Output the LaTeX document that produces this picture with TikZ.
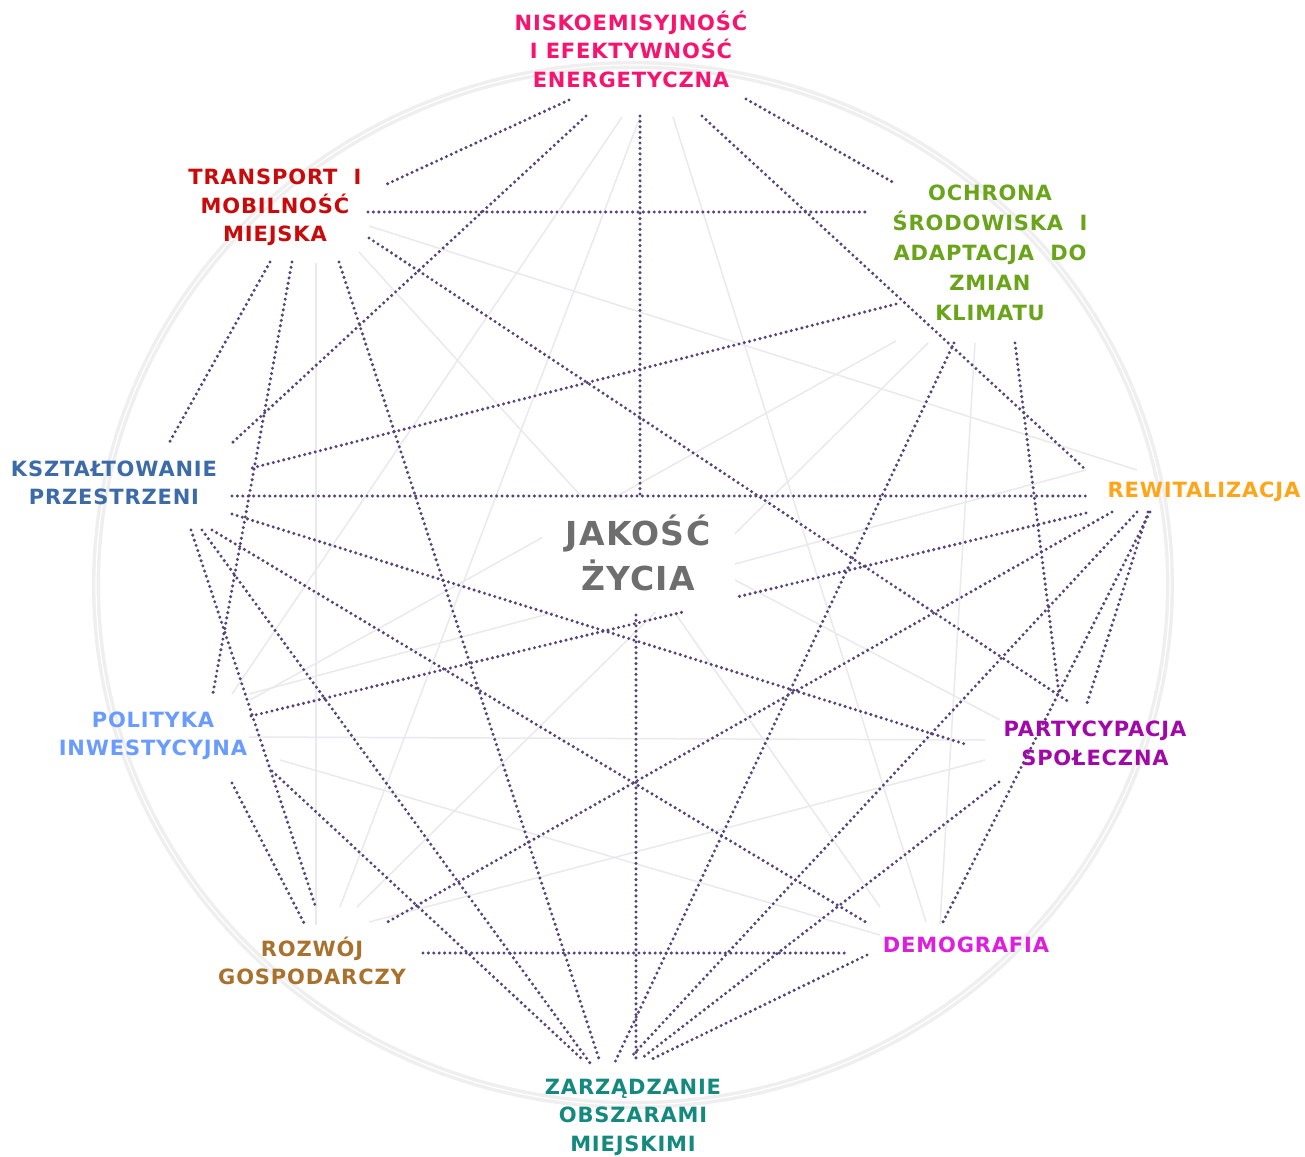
\documentclass[tikz,border=0pt]{standalone}
\usepackage{fontspec}
\newfontfamily\labfont[LetterSpace=4]{DejaVu Sans}
\definecolor{cN}{HTML}{F7146E}
\definecolor{cT}{HTML}{C80A0A}
\definecolor{cO}{HTML}{6AA41A}
\definecolor{cK}{HTML}{3D6BA8}
\definecolor{cR}{HTML}{FFA51A}
\definecolor{cJ}{HTML}{6E6E6E}
\definecolor{cP}{HTML}{6A9CFF}
\definecolor{cPa}{HTML}{A008A8}
\definecolor{cG}{HTML}{A8712E}
\definecolor{cD}{HTML}{DD1EDD}
\definecolor{cZ}{HTML}{14897E}
\definecolor{dotc}{HTML}{54467C}
\definecolor{faintc}{HTML}{EAEAEE}
\definecolor{ringc}{HTML}{EFEFEF}
\begin{document}
\begin{tikzpicture}[x=1pt,y=-1pt,
  lab/.style={font=\labfont\bfseries\fontsize{21}{28.5}\selectfont, align=center, inner sep=0pt},
  dotl/.style={draw=dotc, line width=3.4pt, line cap=round, dash pattern=on 0pt off 5.4pt},
  faint/.style={draw=faintc, line width=1.5pt},
  ring/.style={draw=ringc, line width=8pt}]
\useasboundingbox (0,0) rectangle (1305,1156);
\fill[white] (0,0) rectangle (1305,1156);
% ring
\draw[ring] (633,585) ellipse [x radius=537, y radius=520];
\draw[white, line width=1.2pt] (633,585) ellipse [x radius=537, y radius=520];
% faint connectors
\coordinate (fTa) at (316,263); \coordinate (fGa) at (316,925);
\coordinate (fTb) at (359,252); \coordinate (fJb) at (581,496);
\coordinate (fTc) at (369,226); \coordinate (fRc) at (1137,470);
\coordinate (fNd) at (622,117); \coordinate (fPd) at (232,694);
\coordinate (fNe) at (640,117); \coordinate (fGe) at (340,907);
\coordinate (fNf) at (673,117); \coordinate (fDf) at (926,922);
\coordinate (fPg) at (249,694); \coordinate (fRg) at (1086,470);
\coordinate (fPh) at (249,737); \coordinate (fPah) at (985,740);
\coordinate (fPi) at (280,760); \coordinate (fDi) at (880,935);
\coordinate (fGj) at (357,907); \coordinate (fOj) at (928,343);
\coordinate (fGk) at (369,922); \coordinate (fPak) at (985,760);
\coordinate (fOl) at (896,341); \coordinate (fPl) at (250,700);
\coordinate (fOm) at (975,343); \coordinate (fDm) at (940,924);
\coordinate (fJn) at (735,580); \coordinate (fPan) at (1000,720);
\coordinate (fJo) at (675,613); \coordinate (fDo) at (880,907);
\foreach \a/\b in {fTa/fGa, fTb/fJb, fTc/fRc, fNd/fPd, fNe/fGe, fNf/fDf, fPg/fRg, fPh/fPah, fPi/fDi, fGj/fOj, fGk/fPak, fOl/fPl, fOm/fDm, fJn/fPan, fJo/fDo}
  \draw[faint] (\a) -- (\b);
% white field behind the centre text
\fill[white] (542,500) rectangle (735,612);
% ports of the dotted connectors
\coordinate (nT) at (569,100);  \coordinate (tN) at (387,184);
\coordinate (nK) at (586,116);  \coordinate (kN) at (232,443);
\coordinate (nJ) at (640,116);  \coordinate (jN) at (640,494);
\coordinate (nR) at (702,116);  \coordinate (rN) at (1086,470);
\coordinate (nO) at (746,99);   \coordinate (oN) at (896,184);
\coordinate (tO) at (368,212);  \coordinate (oT) at (870,212);
\coordinate (tPa) at (369,238); \coordinate (paT) at (1069,702);
\coordinate (tK) at (270,262);  \coordinate (kT) at (169,443);
\coordinate (tP) at (292,262);  \coordinate (pT) at (213,693);
\coordinate (tZ) at (339,262);  \coordinate (zT) at (600,1062);
\coordinate (oK) at (896,304);  \coordinate (kO) at (248,469);
\coordinate (oZ) at (954,343);  \coordinate (zO) at (615,1062);
\coordinate (oPa) at (1015,343); \coordinate (paO) at (1059,694);
\coordinate (kR) at (232,496);  \coordinate (rK) at (1086,496);
\coordinate (kPa) at (232,514); \coordinate (paK) at (968,745);
\coordinate (kD) at (212,530);  \coordinate (dK) at (869,924);
\coordinate (kZ) at (202,530);  \coordinate (zK) at (590,1063);
\coordinate (kG) at (191,530);  \coordinate (gK) at (315,905);
\coordinate (pJ) at (251,716);  \coordinate (jP) at (683,612);
\coordinate (pG) at (232,783);  \coordinate (gP) at (305,925);
\coordinate (pZ) at (272,771);  \coordinate (zP) at (583,1060);
\coordinate (rJ) at (1086,513); \coordinate (jR) at (737,597);
\coordinate (rG) at (1112,512); \coordinate (gR) at (384,924);
\coordinate (rZ) at (1137,512); \coordinate (zR) at (630,1058);
\coordinate (rPa) at (1148,512); \coordinate (paR) at (1087,703);
\coordinate (rD) at (1150,512); \coordinate (dR) at (942,924);
\coordinate (paZ) at (999,782); \coordinate (zPa) at (642,1058);
\coordinate (dZ) at (867,955);  \coordinate (zD) at (650,1060);
\coordinate (gD) at (423,953);  \coordinate (dG) at (847,953);
\coordinate (jZ) at (636,615);  \coordinate (zJ) at (636,1060);
\foreach \a/\b in {nT/tN, nK/kN, nJ/jN, nR/rN, nO/oN, tO/oT, tPa/paT, tK/kT, tP/pT, tZ/zT,
  oK/kO, oZ/zO, oPa/paO, kR/rK, kPa/paK, kD/dK, kZ/zK, kG/gK, pJ/jP, pG/gP, pZ/zP,
  rJ/jR, rG/gR, rZ/zR, rPa/paR, rD/dR, paZ/zPa, dZ/zD, gD/dG, jZ/zJ}
  \draw[dotl] (\a) -- (\b);
% labels
\node[lab, text=cN] (N) at (631,49) {NISKOEMISYJNOŚĆ\\I EFEKTYWNOŚĆ\\ENERGETYCZNA};
\node[lab, text=cT] (T) at (275,207.5) {TRANSPORT~~I\\MOBILNOŚĆ\\MIEJSKA};
\node[lab, text=cO, font=\labfont\bfseries\fontsize{21}{30}\selectfont] (O) at (990,253) {OCHRONA\\ŚRODOWISKA~~I\\ADAPTACJA~~DO\\ZMIAN\\KLIMATU};
\node[lab, text=cK] (K) at (114,483) {KSZTAŁTOWANIE\\PRZESTRZENI};
\node[lab, text=cR] (R) at (1204,492) {REWITALIZACJA};
\node[lab, text=cJ, font=\labfont\bfseries\fontsize{33}{45}\selectfont] (J) at (638,552.5) {JAKOŚĆ\\ŻYCIA};
\node[lab, text=cP] (P) at (153,736) {POLITYKA\\INWESTYCYJNA};
\node[lab, text=cPa] (Pa) at (1095,743.5) {PARTYCYPACJA\\SPOŁECZNA};
\node[lab, text=cG] (G) at (312,961) {ROZWÓJ\\GOSPODARCZY};
\node[lab, text=cD] (D) at (966,945) {DEMOGRAFIA};
\node[lab, text=cZ] (Z) at (633,1117) {ZARZĄDZANIE\\OBSZARAMI\\MIEJSKIMI};
\end{tikzpicture}
\end{document}
